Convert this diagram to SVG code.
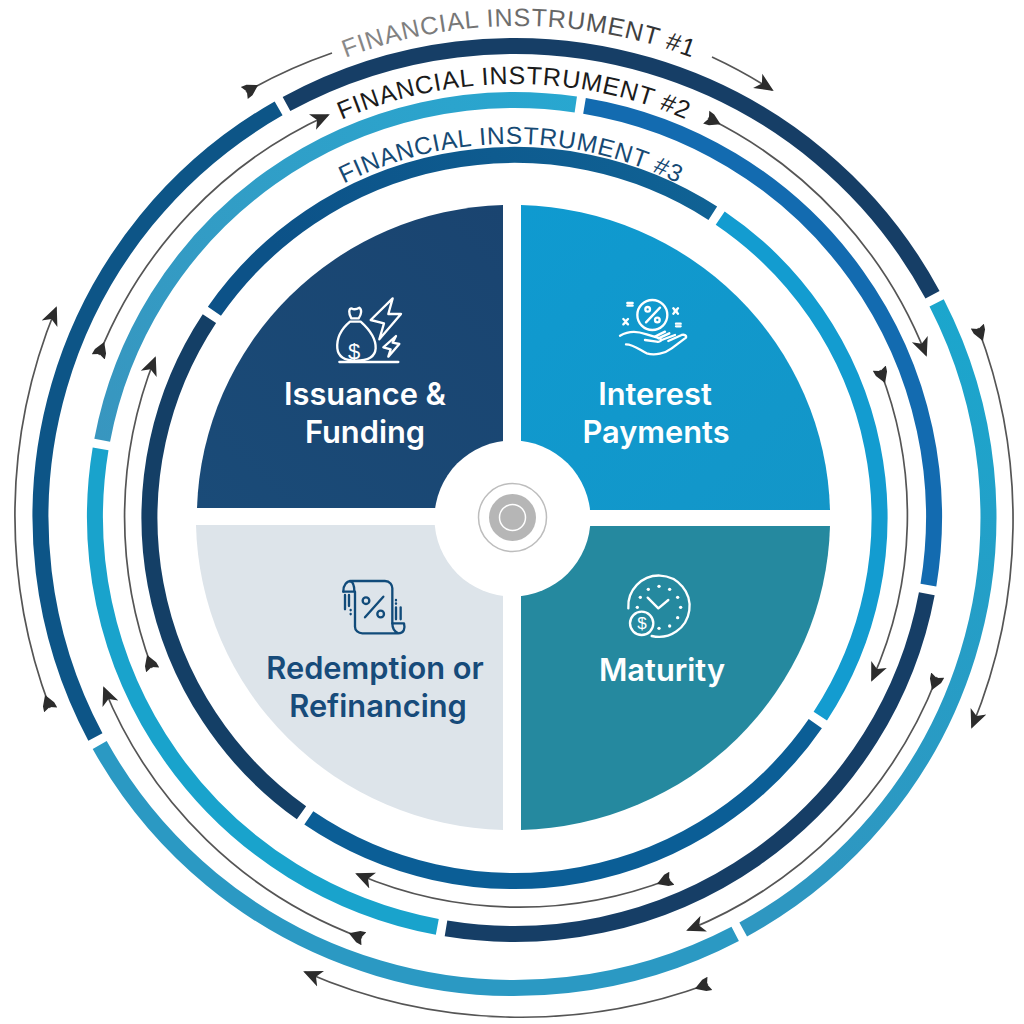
<svg xmlns="http://www.w3.org/2000/svg" width="1024" height="1024" viewBox="0 0 1024 1024">
<style>
.seg{fill:none;stroke-width:16}
.arr{fill:none;stroke:#555;stroke-width:1.7}
.arc{font-family:"Liberation Sans",Arial,sans-serif;font-size:25px;letter-spacing:.85px}
.lab{font-family:Inter,"Liberation Sans",sans-serif;font-size:30.8px;font-weight:600;text-anchor:middle}
.ic{fill:none;stroke:#fff;stroke-width:7;stroke-linecap:round;stroke-linejoin:round}
.icd{fill:none;stroke:#114b7a;stroke-width:7;stroke-linecap:round;stroke-linejoin:round}
</style>
<defs>
<marker id="head" markerUnits="userSpaceOnUse" markerWidth="24" markerHeight="24" refX="17" refY="10" orient="auto"><path d="M19,10 L0,1.5 L5,10 L0,18.5 Z" fill="#2c2c2c"/></marker>
<marker id="tail" markerUnits="userSpaceOnUse" markerWidth="24" markerHeight="24" refX="2" refY="10" orient="auto"><path d="M16,10 L6,4 L0,3 L3,10 L0,17 L6,16 Z" fill="#2c2c2c"/></marker>
<linearGradient id="gA" gradientUnits="userSpaceOnUse" x1="950" y1="300" x2="800" y2="860"><stop offset="0" stop-color="#1ba6cd"/><stop offset="1" stop-color="#2e97c1"/></linearGradient>
<linearGradient id="gB" gradientUnits="userSpaceOnUse" x1="100" y1="440" x2="580" y2="100"><stop offset="0" stop-color="#3896bf"/><stop offset="1" stop-color="#28a7d0"/></linearGradient>
<linearGradient id="gC" gradientUnits="userSpaceOnUse" x1="730" y1="100" x2="300" y2="300"><stop offset="0" stop-color="#106496"/><stop offset="1" stop-color="#0c5288"/></linearGradient>
<linearGradient id="gT" gradientUnits="userSpaceOnUse" x1="340" y1="40" x2="700" y2="40"><stop offset="0" stop-color="#8a8a8a"/><stop offset="0.6" stop-color="#666"/><stop offset="1" stop-color="#1c1c1c"/></linearGradient>
<linearGradient id="gQ1" x1="0" y1="1" x2="1" y2="0"><stop offset="0" stop-color="#1a4b78"/><stop offset="1" stop-color="#1a4470"/></linearGradient>
<linearGradient id="gQ2" x1="0" y1="0" x2="1" y2="1"><stop offset="0" stop-color="#0f9ad0"/><stop offset="1" stop-color="#1396c8"/></linearGradient>
<path id="t1" d="M238.5,114.4 A489,489 0 0 1 799.5,114.4"/>
<path id="t2" d="M265.6,162.3 A433,433 0 0 1 762.4,162.3"/>
<path id="t3" d="M297,211.4 A373,373 0 0 1 725,211.4"/>
</defs>
<rect width="1024" height="1024" fill="#fff"/>
<g id="ring-1">
<path class="seg" stroke="#163e66" d="M286.5,104.1 A474,471 0 0 1 932.5,294.8"/>
<path class="seg" stroke="url(#gA)" d="M936.6,302.8 A474,471 0 0 1 743.2,929.5"/>
<path class="seg" stroke="#2b99c3" d="M735.2,933.8 A474,471 0 0 1 99.7,745"/>
<path class="seg" stroke="#0d5587" d="M95.4,737 A474,471 0 0 1 278.6,108.4"/>
</g>
<g id="ring-2">
<path class="seg" stroke="#136bb0" d="M584.5,105.8 A419.5,417 0 0 1 928.4,585.1"/>
<path class="seg" stroke="#163e66" d="M926.8,593.7 A419.5,417 0 0 1 446,928.4"/>
<path class="seg" stroke="#19a3cc" d="M437.3,926.9 A419.5,417 0 0 1 100.6,448.9"/>
<path class="seg" stroke="url(#gB)" d="M102.2,440.3 A419.5,417 0 0 1 575.8,104.5"/>
</g>
<g id="ring-3">
<path class="seg" stroke="#139cd0" d="M720.2,218.1 A365,363 0 0 1 820.3,716.2"/>
<path class="seg" stroke="#0b5e96" d="M815.3,723.6 A365,363 0 0 1 308.8,817.9"/>
<path class="seg" stroke="#143f66" d="M301.5,812.8 A365,363 0 0 1 209.4,318.7"/>
<path class="seg" stroke="url(#gC)" d="M214.4,311.3 A365,363 0 0 1 712.8,213.2"/>
</g>
<g id="connectors">
<path class="arr" marker-end="url(#head)" d="M712,57 A500,500 0 0 1 772,90"/>
<path class="arr" marker-start="url(#tail)" d="M246,92 A500,500 0 0 1 332,53"/>
<path class="arr" marker-start="url(#tail)" marker-end="url(#head)" d="M978,328 A543,543 0 0 1 972,727"/>
<path class="arr" marker-start="url(#tail)" marker-end="url(#head)" d="M708,984 A540,540 0 0 1 305,972"/>
<path class="arr" marker-start="url(#tail)" marker-end="url(#head)" d="M50,708 A545,545 0 0 1 56,308"/>
<path class="arr" marker-start="url(#tail)" marker-end="url(#head)" d="M708,118 A445,445 0 0 1 926,355"/>
<path class="arr" marker-start="url(#tail)" marker-end="url(#head)" d="M937,677 A448,448 0 0 1 688,930"/>
<path class="arr" marker-start="url(#tail)" marker-end="url(#head)" d="M362,938 A446,446 0 0 1 104,688"/>
<path class="arr" marker-start="url(#tail)" marker-end="url(#head)" d="M99,355 A445,445 0 0 1 328,115"/>
<path class="arr" marker-start="url(#tail)" marker-end="url(#head)" d="M880,370 A400,400 0 0 1 872,680"/>
<path class="arr" marker-start="url(#tail)" marker-end="url(#head)" d="M670,879 A415,415 0 0 1 357,874"/>
<path class="arr" marker-start="url(#tail)" marker-end="url(#head)" d="M152,668 A430,430 0 0 1 155,358"/>
</g>
<g id="ring-labels">
<text class="arc" fill="url(#gT)"><textPath href="#t1" startOffset="50%" text-anchor="middle">FINANCIAL INSTRUMENT #1</textPath></text>
<text class="arc" fill="#1b1b1b"><textPath href="#t2" startOffset="50%" text-anchor="middle">FINANCIAL INSTRUMENT #2</textPath></text>
<text class="arc" fill="#164a74" style="font-size:24.5px;letter-spacing:.8px"><textPath href="#t3" startOffset="50%" text-anchor="middle">FINANCIAL INSTRUMENT #3</textPath></text>
</g>
<g id="issuance">
<path fill="url(#gQ1)" d="M503,205 A316,313 0 0 0 197,508 L503,508 Z"/>
<g transform="translate(320,290) scale(.3333)" class="ic">
<path d="M90,95 C60,120 50,150 52,175 C55,205 80,212 108,212 C138,212 165,205 167,175 C168,150 150,120 122,95 Z"/>
<path d="M94,85 C85,70 86,55 95,55 C102,60 110,58 118,53 C126,58 125,72 116,85 Z"/>
<path d="M58,216 L235,216"/>
<path d="M218,25 L152,90 L192,100 L178,148 L243,72 L205,72 Z"/>
<path d="M228,138 L190,172 L212,178 L205,200 L238,162 L218,158 Z"/>
</g>
<text x="354" y="359" fill="#fff" font-family="'Liberation Sans',sans-serif" font-size="22" text-anchor="middle">$</text>
<text class="lab" x="365" y="405" fill="#fff">Issuance &amp;</text>
<text class="lab" x="365" y="443" fill="#fff">Funding</text>
</g>
<g id="interest">
<path fill="url(#gQ2)" d="M521,205 A318,313 0 0 1 830,510 L521,510 Z"/>
<g transform="translate(610,285) scale(.3333)" class="ic">
<circle cx="127" cy="90" r="45"/>
<path d="M108,112 L150,68"/>
<circle cx="113" cy="73" r="7"/><circle cx="142" cy="105" r="7"/>
<path d="M52,54 H68 M52,62 H68 M198,116 H212 M198,124 H212"/>
<path d="M40,102 L46,108 M54,102 L48,108 M40,118 L46,112 M54,118 L48,112"/>
<path d="M190,70 C196,74 196,82 190,86 M204,70 C198,74 198,82 204,86"/>
<path d="M30,152 C60,135 85,140 110,148 L150,160 C158,166 150,172 140,170 L105,165"/>
<path d="M48,178 C70,178 85,192 110,205 C135,213 165,205 185,190 L228,158 C230,150 222,148 215,150 L175,168"/>
<path d="M135,155 L165,140 M145,160 L178,145 M155,165 L195,150"/>
</g>
<text class="lab" x="655" y="405" fill="#fff">Interest</text>
<text class="lab" x="656" y="443" fill="#fff">Payments</text>
</g>
<g id="maturity">
<path fill="#25899f" d="M521,830 A318,312 0 0 0 830,526 L521,526 Z"/>
<g transform="translate(615,565) scale(.3333)" class="ic">
<path d="M40,130 A92,92 0 1 1 110,213"/>
<path d="M98,98 L130,130 L160,105"/>
<circle cx="80" cy="175" r="35"/>
<g fill="#fff" stroke="none"><circle cx="132" cy="64" r="5"/><circle cx="164" cy="73" r="5"/><circle cx="188" cy="97" r="5"/><circle cx="197" cy="127" r="5"/><circle cx="188" cy="158" r="5"/><circle cx="164" cy="183" r="5"/><circle cx="132" cy="190" r="5"/><circle cx="100" cy="73" r="5"/><circle cx="76" cy="97" r="5"/><circle cx="67" cy="127" r="5"/></g>
</g>
<text x="642" y="629" fill="#fff" font-family="'Liberation Sans',sans-serif" font-size="17" text-anchor="middle">$</text>
<text class="lab" x="662" y="681" fill="#fff">Maturity</text>
</g>
<g id="redemption">
<path fill="#dde4ea" d="M503,830 A316,312 0 0 1 196,525 L503,525 Z"/>
<g transform="translate(330,570) scale(.3333)" class="icd">
<path d="M40,65 C40,45 50,33 65,33 L165,33 C180,33 187,45 187,55 L187,160"/>
<path d="M40,65 L73,65 C73,50 70,35 60,33"/>
<path d="M75,65 L75,170 C75,182 85,190 97,190 L205,190 C222,190 226,175 222,160 L187,160 C187,172 192,185 205,190"/>
<circle cx="108" cy="92" r="10"/><circle cx="152" cy="132" r="10"/>
<path d="M105,142 L160,80"/>
<path d="M45,75 V118 M57,75 V108 M62,120 V121 M62,132 V133 M198,90 V91 M198,100 V101 M198,112 V148 M212,112 V148"/>
</g>
<text class="lab" x="375" y="679" fill="#174b7a">Redemption or</text>
<text class="lab" x="378" y="717" fill="#174b7a">Refinancing</text>
</g>
<g id="hub">
<circle cx="512.5" cy="518.5" r="78" fill="#fff"/>
<circle cx="512.5" cy="517.5" r="34" fill="none" stroke="#bdbdbd" stroke-width="1.5"/>
<circle cx="512.5" cy="517.5" r="23.5" fill="#b6b6b6"/>
<circle cx="512.5" cy="517.5" r="13" fill="none" stroke="#fff" stroke-width="1.5"/>
</g>
</svg>
